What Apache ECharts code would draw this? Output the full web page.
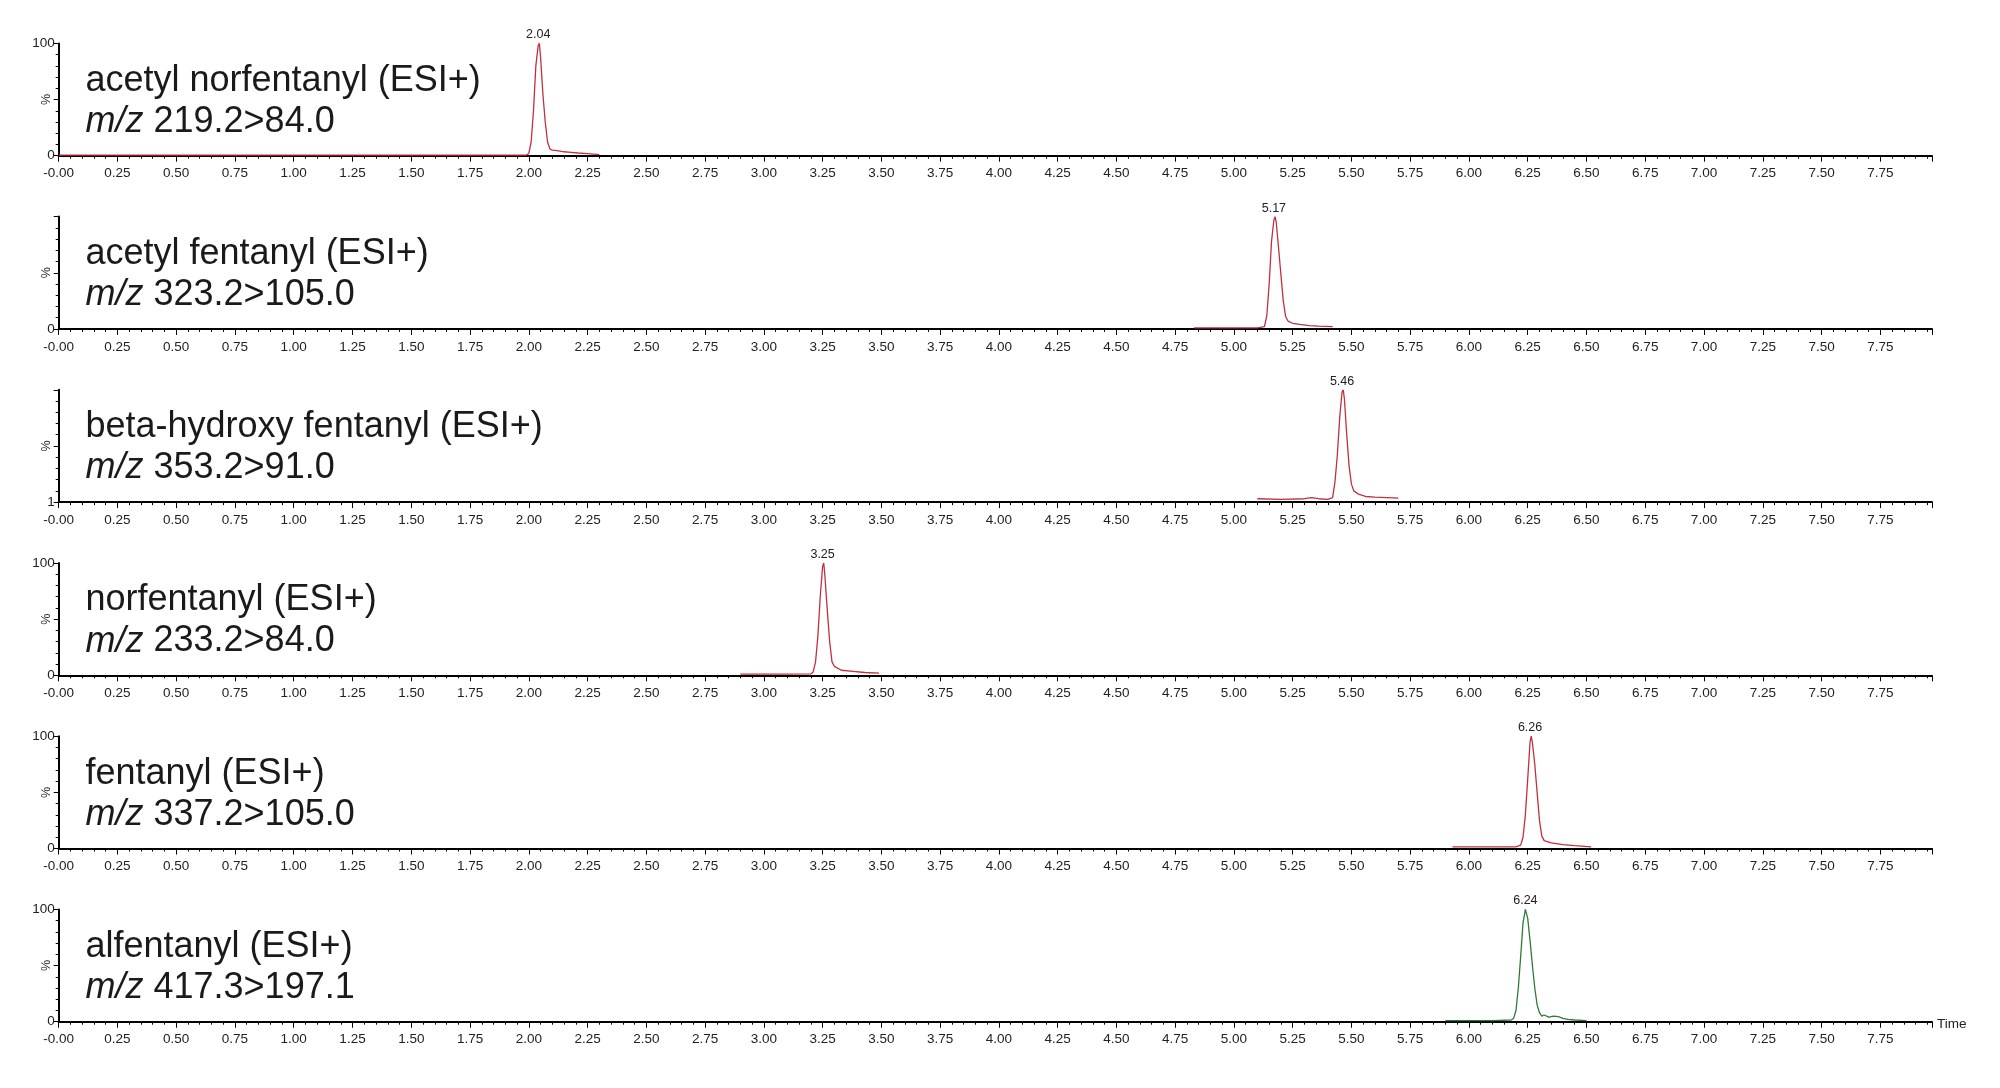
<!DOCTYPE html>
<html>
<head>
<meta charset="utf-8">
<script src="https://cdn.jsdelivr.net/npm/echarts@6/dist/echarts.min.js"></script>
<style>
html,body{margin:0;padding:0;background:#fff;}
#chart{width:2000px;height:1088px;}
</style>
</head>
<body>
<div id="chart"></div>
<script>
// ---- data ----
const compoundNames = ['acetyl norfentanyl (ESI+)', 'acetyl fentanyl (ESI+)', 'beta-hydroxy fentanyl (ESI+)', 'norfentanyl (ESI+)', 'fentanyl (ESI+)', 'alfentanyl (ESI+)'];
const transitions = ['219.2>84.0', '323.2>105.0', '353.2>91.0', '233.2>84.0', '337.2>105.0', '417.3>197.1'];
const peakTimes = [2.04, 5.17, 5.46, 3.25, 6.26, 6.24];
const peakLabels = ['2.04', '5.17', '5.46', '3.25', '6.26', '6.24'];
const yTopLabels = ['100', '', '', '100', '100', '100'];
const yBottomLabels = ['0', '0', '1', '0', '0', '0'];
const traceColors = ['#c0303e', '#c0303e', '#c0303e', '#c0303e', '#c0303e', '#2f7a3a'];

const t1 = [0.00, 0.25, 0.50, 0.75, 1.00, 1.25, 1.50, 1.75, 1.99, 2.00, 2.01, 2.02, 2.03, 2.04, 2.045, 2.05, 2.06, 2.07, 2.08, 2.09, 2.10, 2.12, 2.15, 2.18, 2.21, 2.25, 2.30];
const y1 = [0.6, 0.5, 0.6, 0.5, 0.6, 0.5, 0.6, 0.5, 0.6, 2, 12, 40, 80, 98, 100, 88, 55, 30, 12, 6, 5, 4.5, 3.5, 3, 2.4, 1.8, 1];

const t2 = [4.83, 4.90, 5.00, 5.10, 5.13, 5.14, 5.15, 5.16, 5.17, 5.175, 5.18, 5.19, 5.20, 5.21, 5.22, 5.23, 5.25, 5.28, 5.32, 5.36, 5.42];
const y2 = [1, 1, 1, 1, 2, 12, 40, 78, 97, 100, 95, 72, 48, 25, 11, 7, 5, 4, 3, 2.5, 2];

const t3 = [5.10, 5.20, 5.30, 5.33, 5.36, 5.40, 5.42, 5.43, 5.44, 5.45, 5.46, 5.465, 5.47, 5.48, 5.49, 5.50, 5.51, 5.53, 5.56, 5.60, 5.65, 5.70];
const y3 = [3, 2.5, 3, 4, 3, 2.5, 4, 18, 42, 75, 98, 100, 92, 60, 32, 16, 10, 7, 5, 4.5, 4, 3.5];

const t4 = [2.90, 3.00, 3.10, 3.20, 3.21, 3.22, 3.23, 3.24, 3.25, 3.255, 3.26, 3.27, 3.28, 3.29, 3.30, 3.33, 3.38, 3.43, 3.49];
const y4 = [1, 1, 1, 1.2, 3, 12, 35, 70, 97, 100, 88, 58, 30, 12, 8, 4.5, 3.5, 2.5, 2];

const t5 = [5.93, 6.00, 6.10, 6.20, 6.22, 6.23, 6.24, 6.25, 6.26, 6.265, 6.27, 6.28, 6.29, 6.30, 6.31, 6.32, 6.35, 6.40, 6.45, 6.52];
const y5 = [1.5, 1.5, 1.5, 1.5, 3, 10, 30, 62, 95, 100, 94, 75, 50, 25, 11, 7, 5, 3.5, 2.5, 1.5];

const t6 = [5.90, 6.00, 6.10, 6.18, 6.19, 6.20, 6.21, 6.22, 6.23, 6.24, 6.25, 6.26, 6.27, 6.28, 6.29, 6.30, 6.31, 6.32, 6.34, 6.36, 6.38, 6.40, 6.42, 6.45, 6.50];
const y6 = [1, 1, 1, 1.5, 3, 10, 30, 58, 88, 100, 92, 72, 50, 30, 15, 8, 5, 6, 4, 5, 4.5, 3, 2, 1.5, 1];

const timeArrays = [t1, t2, t3, t4, t5, t6];
const valueArrays = [y1, y2, y3, y4, y5, y6];

const X_MIN = 0, X_MAX = 7.97, X_STEP = 0.25;

// ---- build option ----
const FONT = '"Liberation Sans", Arial, sans-serif';
const panelTop0 = 43.4, panelStep = 173.2, panelH = 112.3;
const gridLeft = 58.7, gridRight = 68;

const grids = [], xAxes = [], yAxes = [], series = [], titles = [];
for (let i = 0; i < 6; i++) {
  const top = panelTop0 + panelStep * i;
  grids.push({left: gridLeft, right: gridRight, top: top, height: panelH});
  xAxes.push({
    type: 'value', gridIndex: i, min: X_MIN, max: X_MAX, interval: X_STEP,
    name: i === 5 ? 'Time' : '', nameLocation: 'end', nameGap: 5,
    nameTextStyle: {fontFamily: FONT, fontSize: 13.5, color: '#222', verticalAlign: 'top', padding: [-4, 0, 0, 0]},
    axisLine: {show: true, onZero: false, lineStyle: {color: '#000', width: 2}},
    axisTick: {show: true, length: 6, lineStyle: {color: '#000', width: 1}},
    minorTick: {show: true, splitNumber: 5, length: 3, lineStyle: {color: '#000', width: 1}},
    splitLine: {show: false},
    axisLabel: {
      fontFamily: FONT, fontSize: 13.5, color: '#222', margin: 11,
      formatter: function (v) {
        const k = v / X_STEP;
        if (Math.abs(k - Math.round(k)) > 1e-6) return '';
        if (v === 0) return '-0.00';
        return v.toFixed(2);
      }
    }
  });
  const topL = yTopLabels[i], botL = yBottomLabels[i];
  yAxes.push({
    type: 'value', gridIndex: i, min: 0, max: 100, interval: 50,
    name: '%', nameLocation: 'middle', nameRotate: 90, nameGap: 6, nameMoveOverlap: false,
    nameTextStyle: {fontFamily: FONT, fontSize: 12.5, color: '#222'},
    axisLine: {show: true, lineStyle: {color: '#000', width: 2}},
    axisTick: {show: true, length: 5, lineStyle: {color: '#000', width: 1}},
    minorTick: {show: true, splitNumber: 5, length: 3, lineStyle: {color: '#000', width: 1}},
    splitLine: {show: false},
    axisLabel: {
      fontFamily: FONT, fontSize: 13.5, color: '#222', margin: 4,
      formatter: function (v) {
        if (v === 100) return topL;
        if (v === 0) return botL;
        return '';
      }
    }
  });
  const pts = timeArrays[i].map((t, j) => [t, valueArrays[i][j]]);
  series.push({
    type: 'line', xAxisIndex: i, yAxisIndex: i, data: pts,
    showSymbol: false, symbol: 'none', animation: false,
    lineStyle: {color: traceColors[i], width: 1.3},
    markPoint: {
      symbol: 'circle', symbolSize: 0, animation: false,
      data: [{coord: [peakTimes[i], 100], value: peakLabels[i]}],
      label: {show: true, position: 'top', distance: 2, formatter: peakLabels[i],
        fontFamily: FONT, fontSize: 12.5, color: '#222'}
    }
  });
  titles.push({
    text: compoundNames[i] + '\n{i|m/z} ' + transitions[i],
    left: 85.5, top: top + 17, padding: 0,
    textStyle: {fontFamily: FONT, fontSize: 36, fontWeight: 'normal', color: '#1a1a1a', lineHeight: 41,
      rich: {i: {fontFamily: FONT, fontSize: 36, fontStyle: 'italic', color: '#1a1a1a', lineHeight: 41}}}
  });
}

const chart = echarts.init(document.getElementById('chart'), null, {renderer: 'canvas'});
chart.setOption({
  backgroundColor: '#fff',
  animation: false,
  title: titles,
  grid: grids,
  xAxis: xAxes,
  yAxis: yAxes,
  series: series
});
</script>
</body>
</html>
